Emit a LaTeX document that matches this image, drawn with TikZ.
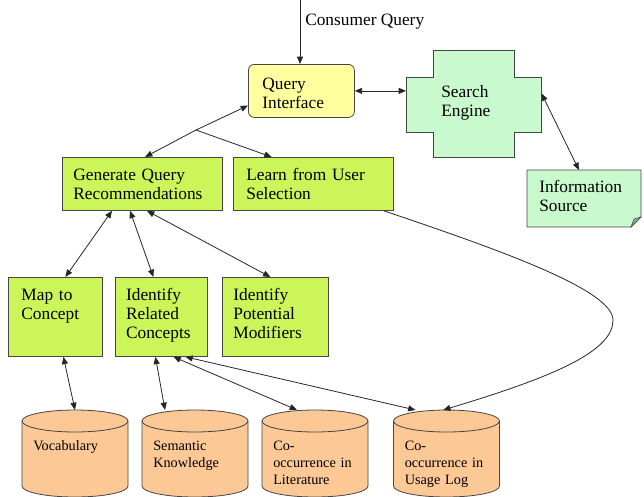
\documentclass[tikz,border=0pt]{standalone}
\usepackage{fontspec}
\setmainfont{Liberation Serif}
\usetikzlibrary{arrows.meta}

\definecolor{qiyellow}{RGB}{255,255,160}
\definecolor{stepgreen}{RGB}{204,245,90}
\definecolor{enginemint}{RGB}{200,250,205}
\definecolor{dbpeach}{RGB}{252,200,150}
\definecolor{edgegray}{RGB}{70,70,70}

\tikzset{
  boxtext/.style={anchor=north west, inner ysep=0pt, align=left, font=\fontsize{13}{14.25}\selectfont},
  proc/.style={boxtext, draw=edgegray, line width=0.6pt, fill=stepgreen},
  link/.style={draw=black!85, line width=0.6pt},
  db/.style={draw=edgegray, line width=0.6pt, fill=dbpeach},
  dbtext/.style={anchor=base west, inner sep=0pt, text width=70pt, align=left, font=\fontsize{10.7}{13}\selectfont}
}

\begin{document}
\begin{tikzpicture}[x=0.75pt, y=-0.75pt, >={Triangle[length=5.5pt,width=4.5pt]}]
\useasboundingbox (0,0) rectangle (644,497);

\node[boxtext, inner sep=0pt, anchor=base west] (cqtext) at (305,25) {Consumer Query};
\coordinate (cq) at (300,0);
\node[boxtext, draw=edgegray, line width=0.6pt, fill=qiyellow, rounded corners=4.5pt, inner xsep=10.5pt, text width=58.5pt, text height=18.75pt, text depth=21pt] (qi) at (248,64) {Query\\Interface};

\filldraw[fill=enginemint, draw=edgegray, line width=0.6pt] (406,77) -- (433,77) -- (433,50) -- (514,50) -- (514,77) -- (541,77) -- (541,132) -- (514,132) -- (514,157) -- (433,157) -- (433,132) -- (406,132) -- cycle;
\node[boxtext, inner xsep=26.25pt, text width=48.75pt, text height=15pt, text depth=26.25pt] (srch) at (406,77) {Search\\Engine};

\filldraw[fill=enginemint, draw=edgegray, line width=0.6pt] (527,170) -- (641,170) -- (641,217) -- (631,227) -- (527,227) -- cycle;
\filldraw[fill=enginemint!70!black, draw=edgegray, line width=0.4pt] (631,227) -- (641,217) -- (634,219) -- cycle;
\node[boxtext, inner xsep=9pt, text width=67.5pt, text height=16.5pt, text depth=26.25pt] (info) at (527,170) {Information\\Source};

\node[proc, inner xsep=8.25pt, text width=103.5pt, text height=17.25pt, text depth=22.5pt] (gqr) at (62,157) {Generate Query\\Recommendations};
\node[proc, inner xsep=9.75pt, text width=100.5pt, text height=17.25pt, text depth=22.5pt] (lus) at (233,157) {Learn from User\\Selection};

\node[proc, inner xsep=9.75pt, text width=51pt, text height=17.25pt, text depth=42pt] (map) at (8,277) {Map to\\Concept};
\node[proc, inner xsep=8pt, text width=53pt, text height=17.25pt, text depth=42pt] (rel) at (115,277) {Identify\\Related\\Concepts};
\node[proc, inner xsep=8.25pt, text width=63pt, text height=17.25pt, text depth=42pt] (mod) at (222,277) {Identify\\Potential\\Modifiers};

\foreach \cx/\nm/\txt in {75/voc/{Vocabulary},195/sem/{Semantic\\Knowledge},315/lit/{Co-\\occurrence in\\Literature},446.5/usg/{Co-\\occurrence in\\Usage Log}}{
  \draw[db] (\cx-53,421) -- (\cx-53,486) arc[start angle=180,end angle=360,x radius=39.75pt,y radius=8.25pt] -- (\cx+53,421) arc[start angle=0,end angle=180,x radius=39.75pt,y radius=8.25pt] -- cycle;
  \draw[db, fill=none] (\cx-53,421) arc[start angle=180,end angle=360,x radius=39.75pt,y radius=8.25pt];
  \coordinate (\nm) at (\cx,410);
  \node[dbtext] (\nm txt) at (\cx-42,450) {\txt};
}

\draw[link,->] (cq) -- (cq |- qi.north);
\draw[link,<->] (qi.east) -- (qi.east -| srch.west);
\draw[link,<->] ([yshift=8.5pt]srch.east) -- ([xshift=-4pt]info.north);

\coordinate (jn) at (196,130);
\draw[link,->] (jn) -- ([yshift=-11pt]qi.west);
\draw[link,->] (jn) -- ([xshift=2pt]gqr.north);
\draw[link,->] (jn) -- ([xshift=29pt]lus.north west);

\draw[link,<->] ([xshift=37.5pt]gqr.south west) -- ([xshift=7.5pt]map.north);
\draw[link,<->] ([xshift=51pt]gqr.south west) -- ([xshift=-6pt]rel.north);
\draw[link,<->] ([xshift=63.75pt]gqr.south west) -- ([xshift=-3.75pt]mod.north);

\draw[link,<->] ([xshift=6pt]map.south) -- (voc);
\draw[link,<->] ([xshift=-4.5pt]rel.south) -- ([xshift=-22.5pt]sem);
\draw[link,<->] ([xshift=9pt]rel.south) -- ([xshift=-13.5pt]lit);
\draw[link,<->] ([xshift=18pt]rel.south) -- ([xshift=-23.25pt]usg);

\coordinate (bend) at (613,320);
\draw[link,->] ([xshift=-7.5pt]lus.south east) .. controls (500,250) and (613,290) .. (bend) .. controls (613,350) and (560,375) .. ([xshift=-2.5pt]usg);
\end{tikzpicture}
\end{document}
